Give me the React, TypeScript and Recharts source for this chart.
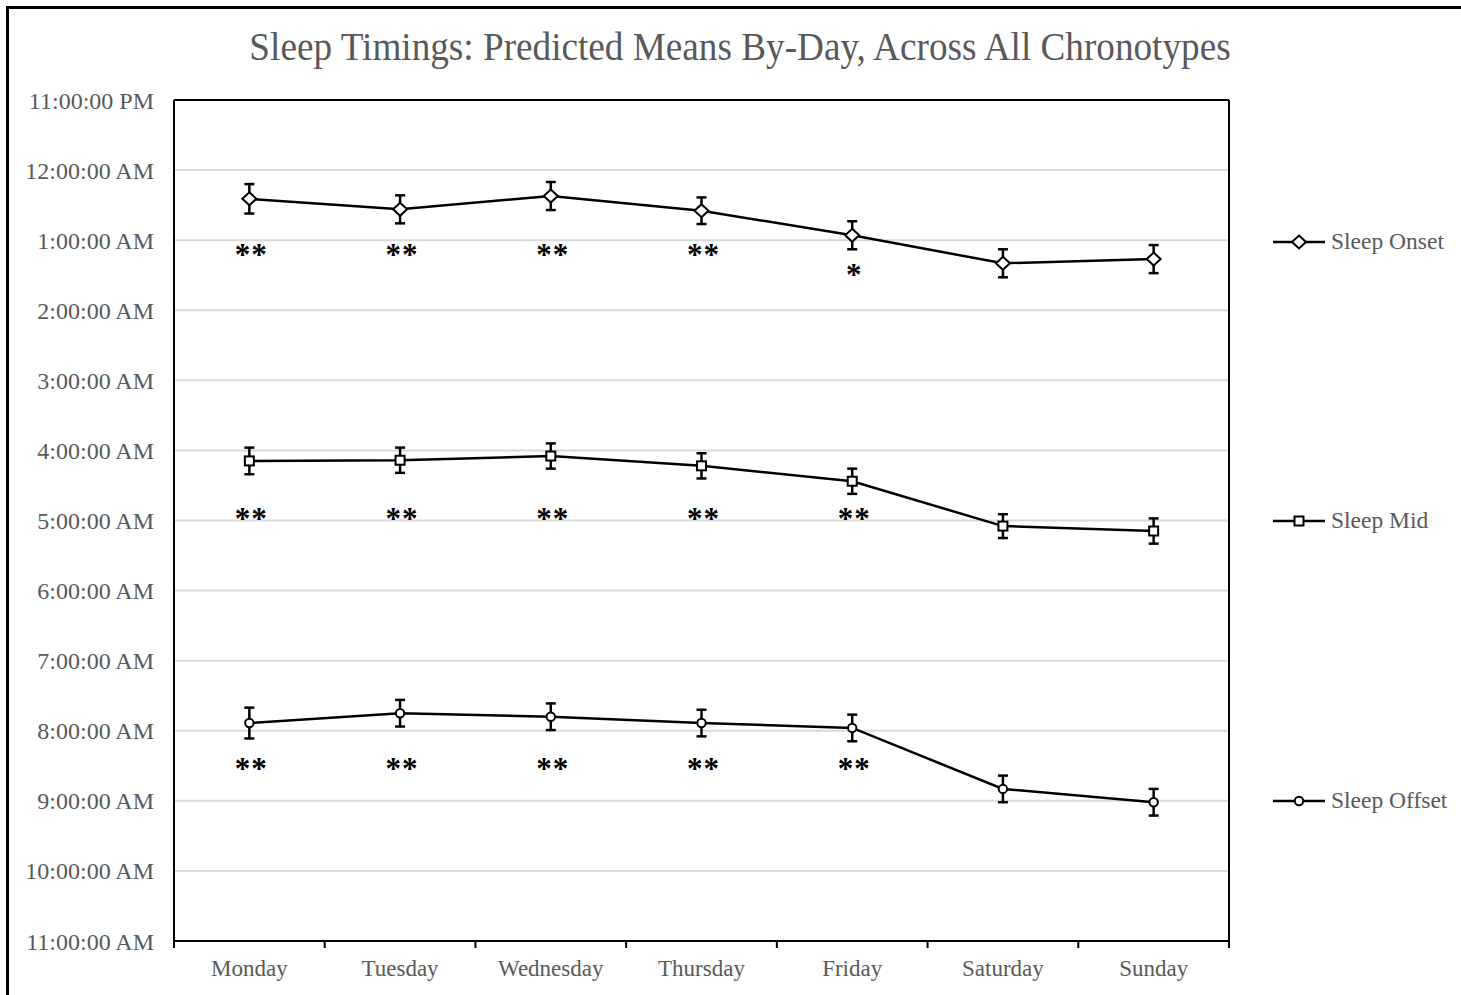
import React from "react";
import {
  LineChart,
  Line,
  XAxis,
  YAxis,
  CartesianGrid,
  ErrorBar,
  ReferenceLine,
} from "recharts";

// Predicted means, in hours after 11:00 PM
const days = ["Monday", "Tuesday", "Wednesday", "Thursday", "Friday", "Saturday", "Sunday"];

const onsetHours = [1.41, 1.56, 1.37, 1.58, 1.93, 2.33, 2.27];
const onsetErr = [0.21, 0.2, 0.2, 0.19, 0.2, 0.2, 0.2];

const midHours = [5.15, 5.14, 5.08, 5.22, 5.44, 6.08, 6.15];
const midErr = [0.19, 0.18, 0.18, 0.18, 0.18, 0.17, 0.18];

const offsetHours = [8.89, 8.75, 8.8, 8.89, 8.96, 9.83, 10.02];
const offsetErr = [0.22, 0.19, 0.19, 0.19, 0.19, 0.19, 0.19];

// significance marks and the level (hours after 11 PM) they sit at
const onsetSig = ["**", "**", "**", "**", "*", "", ""];
const onsetSigAt = [2.14, 2.14, 2.14, 2.14, 2.43, null, null];
const midSig = ["**", "**", "**", "**", "**", "", ""];
const midSigAt = [5.91, 5.91, 5.91, 5.91, 5.91, null, null];
const offsetSig = ["**", "**", "**", "**", "**", "", ""];
const offsetSigAt = [9.47, 9.47, 9.47, 9.47, 9.47, null, null];

const yTickLabels = [
  "11:00:00 PM",
  "12:00:00 AM",
  "1:00:00 AM",
  "2:00:00 AM",
  "3:00:00 AM",
  "4:00:00 AM",
  "5:00:00 AM",
  "6:00:00 AM",
  "7:00:00 AM",
  "8:00:00 AM",
  "9:00:00 AM",
  "10:00:00 AM",
  "11:00:00 AM",
];

const data = days.map((day, i) => ({
  x: i,
  day,
  onset: onsetHours[i],
  onsetErr: onsetErr[i],
  mid: midHours[i],
  midErr: midErr[i],
  offset: offsetHours[i],
  offsetErr: offsetErr[i],
  onsetSigAt: onsetSigAt[i],
  onsetSig: onsetSig[i],
  midSigAt: midSigAt[i],
  midSig: midSig[i],
  offsetSigAt: offsetSigAt[i],
  offsetSig: offsetSig[i],
}));

const xTicks: number[] = [];
for (let i = -0.5; i <= days.length - 0.5; i += 0.5) xTicks.push(i);

const FONT = "'Liberation Serif', 'Times New Roman', serif";
const GREY = "#595959";

const Diamond = ({ cx, cy }: any) =>
  cx == null || cy == null ? <g /> : (
    <path
      d={`M${cx},${cy - 6.5} L${cx + 7},${cy} L${cx},${cy + 6.5} L${cx - 7},${cy} Z`}
      fill="#fff"
      stroke="#000"
      strokeWidth={2}
    />
  );

const Square = ({ cx, cy }: any) =>
  cx == null || cy == null ? <g /> : (
    <rect x={cx - 4.5} y={cy - 4.5} width={9} height={9} fill="#fff" stroke="#000" strokeWidth={2} />
  );

const Circle = ({ cx, cy }: any) =>
  cx == null || cy == null ? <g /> : (
    <circle cx={cx} cy={cy} r={4.2} fill="#fff" stroke="#000" strokeWidth={2} />
  );

const sigMark = (key: string) => (props: any) => {
  const { cx, cy, payload, index } = props;
  if (cx == null || cy == null || !payload[key]) return <g key={index} />;
  return (
    <text
      key={index}
      x={cx + 2}
      y={cy}
      dy={15}
      textAnchor="middle"
      fontFamily={FONT}
      fontSize={31}
      fontWeight="bold"
      letterSpacing={1}
      fill="#000"
    >
      {payload[key]}
    </text>
  );
};

const DayTick = ({ x, y, payload }: any) => {
  const v = payload.value;
  if (Number.isInteger(v)) {
    return (
      <text x={x} y={y + 35} textAnchor="middle" fontFamily={FONT} fontSize={23} fill={GREY}>
        {days[v]}
      </text>
    );
  }
  return <line x1={x} x2={x} y1={y} y2={y + 7} stroke="#000" strokeWidth={2} />;
};

const legendItems = [
  { name: "Sleep Onset", y: 242, Marker: Diamond },
  { name: "Sleep Mid", y: 521, Marker: Square },
  { name: "Sleep Offset", y: 801, Marker: Circle },
];

export default function App() {
  return (
    <div style={{ position: "absolute", left: 0, top: 0, width: 1461, height: 995, background: "#fff", overflow: "hidden" }}>
      <div
        style={{
          position: "absolute",
          left: 6,
          top: 6,
          width: 1500,
          height: 1100,
          borderLeft: "3px solid #000",
          borderTop: "3px solid #000",
        }}
      />
      <div
        style={{
          position: "absolute",
          left: 0,
          width: 1480,
          top: 24,
          textAlign: "center",
          fontFamily: FONT,
          fontSize: 40,
          color: GREY,
          lineHeight: "46px",
          transform: "scaleX(0.93)",
          transformOrigin: "740px 0",
        }}
      >
        Sleep Timings: Predicted Means By-Day, Across All Chronotypes
      </div>

      <div style={{ position: "absolute", left: 0, top: 0 }}>
        <LineChart width={1461} height={995} data={data} margin={{ top: 100, right: 232, bottom: 0, left: 0 }}>
          <CartesianGrid vertical={false} stroke="#d9d9d9" strokeWidth={2} />
          <XAxis
            dataKey="x"
            type="number"
            domain={[-0.5, days.length - 0.5]}
            ticks={xTicks}
            interval={0}
            height={54}
            tickLine={false}
            tickSize={0}
            tickMargin={0}
            tick={<DayTick />}
            axisLine={{ stroke: "#000", strokeWidth: 2 }}
          />
          <YAxis
            type="number"
            reversed
            domain={[0, 12]}
            ticks={yTickLabels.map((_, i) => i)}
            interval={0}
            width={174}
            tickLine={false}
            tickMargin={14}
            tickFormatter={(v: number) => yTickLabels[v]}
            tick={{ fontFamily: FONT, fontSize: 24, fill: GREY }}
            axisLine={{ stroke: "#000", strokeWidth: 2 }}
          />
          <ReferenceLine y={0} stroke="#000" strokeWidth={2} />
          <ReferenceLine x={days.length - 0.5} stroke="#000" strokeWidth={2} />

          <Line dataKey="onset" stroke="#000" strokeWidth={2.5} dot={<Diamond />} activeDot={false} isAnimationActive={false}>
            <ErrorBar dataKey="onsetErr" width={5} stroke="#000" strokeWidth={2.5} direction="y" />
          </Line>
          <Line dataKey="mid" stroke="#000" strokeWidth={2.5} dot={<Square />} activeDot={false} isAnimationActive={false}>
            <ErrorBar dataKey="midErr" width={5} stroke="#000" strokeWidth={2.5} direction="y" />
          </Line>
          <Line dataKey="offset" stroke="#000" strokeWidth={2.5} dot={<Circle />} activeDot={false} isAnimationActive={false}>
            <ErrorBar dataKey="offsetErr" width={5} stroke="#000" strokeWidth={2.5} direction="y" />
          </Line>

          <Line dataKey="onsetSigAt" stroke="none" dot={sigMark("onsetSig")} activeDot={false} legendType="none" isAnimationActive={false} />
          <Line dataKey="midSigAt" stroke="none" dot={sigMark("midSig")} activeDot={false} legendType="none" isAnimationActive={false} />
          <Line dataKey="offsetSigAt" stroke="none" dot={sigMark("offsetSig")} activeDot={false} legendType="none" isAnimationActive={false} />
        </LineChart>
      </div>

      <svg style={{ position: "absolute", left: 1260, top: 0 }} width={201} height={995}>
        {legendItems.map(({ name, y, Marker }) => (
          <g key={name}>
            <line x1={13} x2={65} y1={y} y2={y} stroke="#000" strokeWidth={2.5} />
            <Marker cx={39} cy={y} />
            <text x={71} y={y + 7} fontFamily={FONT} fontSize={23.5} fill={GREY}>
              {name}
            </text>
          </g>
        ))}
      </svg>
    </div>
  );
}
